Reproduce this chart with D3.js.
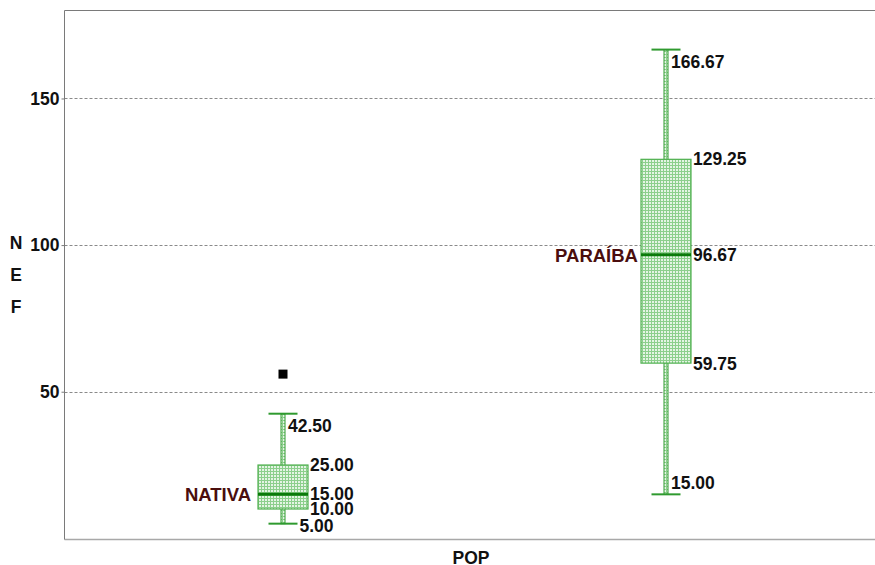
<!DOCTYPE html>
<html>
<head>
<meta charset="utf-8">
<script src="https://cdn.jsdelivr.net/npm/d3@7"></script>
<style>
  body { margin: 0; background: #fff; }
  text { font-family: "Liberation Sans", Arial, sans-serif; font-weight: bold; }
</style>
</head>
<body>
<svg id="chart" width="875" height="565"></svg>
<script>
var categories = ["NATIVA", "PARAÍBA"];
var mins = [5.00, 15.00];
var q1s = [10.00, 59.75];
var medians = [15.00, 96.67];
var q3s = [25.00, 129.25];
var maxs = [42.50, 166.67];
var outliers = [[56], []];
var yTicks = [50, 100, 150];

var svg = d3.select("#chart");
var plotLeft = 64.5, plotTop = 10.5, plotBottom = 539.5, plotRight = 884.5;

var y = d3.scaleLinear().domain([-0.4, 180]).range([plotBottom, plotTop]);
var x = d3.scalePoint().domain(categories).range([plotLeft, plotRight]).padding(0.57);

var green = "#2f9a2f";

// pattern for box fill
var defs = svg.append("defs");
var pat = defs.append("pattern")
    .attr("id", "grid")
    .attr("width", 3).attr("height", 3)
    .attr("patternUnits", "userSpaceOnUse");
pat.append("rect").attr("width", 3).attr("height", 3).attr("fill", "#e4f4e4");
pat.append("path").attr("d", "M0,0.5H3M0.5,0V3")
    .attr("stroke", "#8ccf8c").attr("stroke-width", 1);

// grid lines
svg.append("g").selectAll("line")
    .data(yTicks).enter().append("line")
    .attr("x1", plotLeft).attr("x2", plotRight)
    .attr("y1", function(d){ return Math.round(y(d)) + 0.5; })
    .attr("y2", function(d){ return Math.round(y(d)) + 0.5; })
    .attr("stroke", "#8a8a8a")
    .attr("stroke-dasharray", "3,2");

// frame
svg.append("line").attr("x1", plotLeft).attr("x2", 875).attr("y1", plotTop).attr("y2", plotTop)
    .attr("stroke", "#7a7a7a");
svg.append("line").attr("x1", plotLeft).attr("x2", 875).attr("y1", plotBottom).attr("y2", plotBottom)
    .attr("stroke", "#a8a8a8").attr("stroke-width", 1.5);

// y axis
var yAxis = d3.axisLeft(y).tickValues(yTicks).tickSize(3).tickPadding(2);
var ga = svg.append("g").attr("transform", "translate(" + plotLeft + ",0)").call(yAxis);
ga.select(".domain").attr("stroke", "#7a7a7a").attr("d", "M0," + plotTop + "V" + plotBottom);
ga.selectAll(".tick line").attr("stroke", "#7a7a7a");
ga.selectAll(".tick text").attr("font-size", 17.5).attr("fill", "#111")
    .style("font-family", "'Liberation Sans', Arial, sans-serif").style("font-weight", "bold");

// axis titles
svg.append("g").selectAll("text")
    .data(["N", "E", "F"]).enter().append("text")
    .attr("x", 16).attr("y", function(d, i){ return 249 + i * 32; })
    .attr("text-anchor", "middle").attr("font-size", 17.5).attr("fill", "#111")
    .text(function(d){ return d; });

svg.append("text").attr("x", 471).attr("y", 564)
    .attr("text-anchor", "middle").attr("font-size", 17.5).attr("fill", "#111")
    .text("POP");

var boxW = 50, whiskW = 4, capW = 29;

var groups = svg.selectAll("g.box")
    .data(categories).enter().append("g").attr("class", "box");

groups.each(function(cat, i){
    var g = d3.select(this);
    var cx = Math.round(x(cat));

    // whisker (narrow patterned bar)
    g.append("rect")
        .attr("x", cx - whiskW / 2).attr("width", whiskW)
        .attr("y", y(maxs[i])).attr("height", y(mins[i]) - y(maxs[i]))
        .attr("fill", "url(#grid)").attr("stroke", green).attr("stroke-width", 1);

    // caps
    [mins[i], maxs[i]].forEach(function(v){
        g.append("line")
            .attr("x1", cx - capW / 2).attr("x2", cx + capW / 2)
            .attr("y1", y(v)).attr("y2", y(v))
            .attr("stroke", green).attr("stroke-width", 2);
    });

    // box
    g.append("rect")
        .attr("x", cx - boxW / 2).attr("width", boxW)
        .attr("y", y(q3s[i])).attr("height", y(q1s[i]) - y(q3s[i]))
        .attr("fill", "url(#grid)").attr("stroke", "#4fb04f").attr("stroke-width", 1.2);

    // median
    g.append("line")
        .attr("x1", cx - boxW / 2).attr("x2", cx + boxW / 2)
        .attr("y1", y(medians[i])).attr("y2", y(medians[i]))
        .attr("stroke", "#0a7a0a").attr("stroke-width", 3);

    // outliers
    outliers[i].forEach(function(v){
        g.append("rect")
            .attr("x", cx - 4.5).attr("y", y(v) - 4.5)
            .attr("width", 9).attr("height", 9).attr("fill", "#000");
    });

    // category label
    g.append("text")
        .attr("x", cx - boxW / 2 - (i === 0 ? 7 : 3)).attr("y", y(medians[i]) + 7)
        .attr("text-anchor", "end").attr("font-size", 18.5).attr("fill", "#4a0e0e")
        .text(cat);

    // value labels
    var fmt = d3.format(".2f");
    var lab = function(v, dx, dy){
        g.append("text")
            .attr("x", cx + dx).attr("y", y(v) + dy + 6)
            .attr("font-size", 17.5).attr("fill", "#111")
            .text(fmt(v));
    };
    lab(q3s[i], boxW / 2 + 2, 0);
    lab(medians[i], boxW / 2 + 2, 0);
    lab(q1s[i], boxW / 2 + 2, i === 0 ? 0 : 1);
    lab(maxs[i], whiskW / 2 + 3, 12);
    if (i === 0) lab(mins[i], capW / 2 + 2, 2);
    else lab(mins[i], whiskW / 2 + 3, -11);
});
</script>
</body>
</html>
